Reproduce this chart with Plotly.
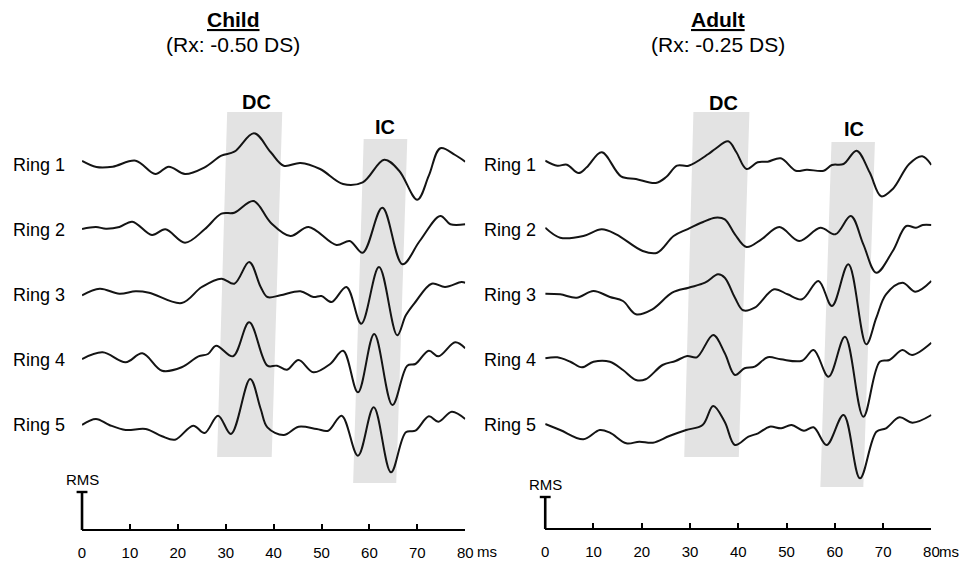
import plotly.graph_objects as go

# ---------------- data (time in ms, amplitude in arbitrary units) ----------------
RINGS = ["Ring 1", "Ring 2", "Ring 3", "Ring 4", "Ring 5"]
TICKS = [0, 10, 20, 30, 40, 50, 60, 70, 80]

CHILD_R1_T = [0, 3, 6.4, 11.2, 15.3, 18.1, 21.5, 25.6, 29.1, 31.8, 35.9, 39.4, 42.1, 45.6, 49.7, 54.5, 58.6, 63.1, 66.2, 70, 72.4, 74.8, 77.9, 80]
CHILD_R1_V = [3, -3, -2.7, 3.3, -10, -2.7, -10, -3.3, 8.3, 12.3, 30.7, 11.7, -1.7, 1, -5, -20, -18.3, 4.3, -6.7, -35.7, -11.7, 15.7, 9, 2.3]
CHILD_R2_T = [0, 2.9, 5, 7.8, 10.5, 14.6, 17.4, 21.5, 25.6, 29.1, 31.8, 35.8, 39.4, 43.5, 47.3, 53.1, 55.9, 58.6, 62.7, 66.9, 70.5, 74.8, 76.9, 80]
CHILD_R2_V = [0, 2, 0.3, 2, 7.3, -6, -0.3, -13.7, -0.3, 15.3, 16.3, 28, 6.3, -7, 2, -16, -12, -23.7, 21.3, -35.3, -12, 13, 4.7, 4.7]
CHILD_R3_T = [0, 3.7, 7.8, 11.2, 14, 20.8, 25, 29.1, 31.8, 34.9, 37.3, 38.7, 41.4, 45.6, 48.3, 50, 52.1, 55.2, 58.3, 62, 65.8, 67.6, 69.6, 73, 75.8, 79.2, 80]
CHILD_R3_V = [-1.3, 5.3, 0.3, 2.7, 1.3, -9, 7, 15.3, 10.3, 32, 7, -3, -1.3, 2.7, -3, -2, -8, 7, -29.7, 27, -41.3, -21.3, -8, 10.3, 7, 12, 11.3]
CHILD_R4_T = [0, 4.3, 9.1, 12.6, 16.7, 20.8, 24.3, 26.3, 28, 31.5, 34.9, 38.7, 40.7, 42.8, 45.2, 48.3, 51.8, 54.5, 57.6, 61, 64.8, 67.9, 69.6, 72.4, 74.4, 77.9, 80]
CHILD_R4_V = [0, 6.7, -3.3, 5.7, -11.7, -8.3, 2.7, 5, 13.3, 2.7, 36.7, -6.7, -6.7, -10.7, -1, -13.3, -5, 8.3, -33.3, 25, -46, -6.7, -5, 8.3, 2.7, 16.7, 10.7]
CHILD_R5_T = [0, 2.9, 5.7, 9.1, 13.3, 16.7, 19.4, 23.2, 25.6, 28.4, 31.1, 35.1, 37.3, 38.7, 42.1, 45.2, 49, 51.4, 54.2, 57.6, 60.9, 64.5, 67.6, 69.6, 72.4, 74.4, 77.2, 80]
CHILD_R5_V = [-1, 5, -1, -6, -5, -12.3, -15.7, -1.7, -9, 8.3, -10, 45, 15, -3.3, -11, -2.7, -5, -6.7, 8.3, -31.7, 16.7, -48.3, -8.3, -6.7, 7.7, 2.3, 12.3, 5]

ADULT_R1_T = [0, 2.5, 4.5, 6.9, 8.6, 11.7, 15.7, 18.8, 22.9, 25, 27.3, 29.7, 33.8, 35.2, 37.9, 39.6, 41.7, 44, 46.1, 48.8, 51.9, 54.2, 57.7, 59.4, 61.8, 64.5, 67.2, 69.6, 72, 75.4, 78.1, 80]
ADULT_R1_V = [3.3, -1.7, -0.7, -9, -3.3, 11.7, -12.3, -15, -19, -13.3, -1.7, -1.7, 10, 15, 22.7, 11.7, -5, 1.7, 2.3, 5.7, -6.7, -5.7, -6.7, -1, 0, 13.3, -8.3, -32.3, -25, 0, 7.7, -1]
ADULT_R2_T = [0, 3.1, 7.9, 11.7, 14.7, 20.2, 23.2, 26.6, 29.4, 32.7, 35.2, 37.2, 39.3, 41.7, 44.8, 48.5, 52.6, 57, 60.1, 63.3, 65.9, 68.6, 72, 74.8, 76.8, 78.2, 80]
ADULT_R2_V = [1.3, -8.7, -7, -0.3, -5.3, -22, -23.7, -7, -0.3, 7, 11.3, 9.7, -5.3, -18, -10.3, 2, -12, 1.3, -5.3, 13, -15.3, -43.7, -22, 3, 1.3, 4, 4]
ADULT_R3_T = [0, 3.1, 6.5, 10, 13.4, 16.1, 18.8, 22.2, 26.3, 29.7, 33.1, 35.8, 37.2, 39.3, 41, 43.4, 47.4, 50.2, 53.2, 56.6, 59.4, 62.8, 66.5, 68.6, 70.6, 74, 76.7, 80]
ADULT_R3_V = [0.3, -0.3, -3.7, 3, -3, -7, -20.3, -15.3, 1.3, 6.3, 11.3, 19.7, 16.3, -3.7, -16.3, -13.7, 4.7, -0.3, -5.3, 13, -12, 29.7, -50.3, -23.7, -0.3, 11.3, 2.3, 13]
ADULT_R4_T = [0, 2.5, 5.2, 7.6, 10, 13.4, 16.1, 18.8, 20.8, 24.3, 27, 29.4, 31.4, 34.8, 37.2, 39.3, 41.3, 43.4, 46.1, 48.8, 53.2, 55.6, 58.7, 62.1, 65.9, 69.3, 71.3, 74, 76, 80]
ADULT_R4_V = [0.7, 1.7, -2.7, -8.3, -2.7, -2.7, -11, -21, -20.3, -6, -2, 3, 1.7, 24, 5.7, -16, -9.3, -7.7, 1.7, -0.3, -1.7, 9, -17.7, 22.3, -57.7, -2.7, -1, 9, 4, 16.3]
ADULT_R5_T = [0, 3.1, 7.9, 11.3, 13.4, 16.8, 19.5, 22.3, 25.7, 29.2, 32.6, 34.8, 37.2, 39.3, 42.1, 44.1, 46.5, 48.9, 51, 53.6, 55.6, 58.3, 61.8, 65.2, 68.6, 70.6, 73.4, 76.1, 80]
ADULT_R5_V = [0, -6, -15.3, -6, -8.7, -19.3, -17.7, -18.7, -12, -6, -1, 18, 2, -21, -12.7, -9.3, -2.7, -4.3, -1, -6.7, -3.3, -21, 9, -54.3, -7.7, -4.3, 6.7, 1.3, 9]

# analysis windows (ms): [top start, top end, bottom start, bottom end]
CHILD_DC = [30.3, 41.8, 28.2, 39.6]
CHILD_IC = [58.8, 67.9, 56.6, 65.6]
ADULT_DC = [30.7, 42.3, 28.8, 40.1]
ADULT_IC = [59.3, 68.3, 57.0, 65.9]

# RMS scale bar heights (same units as amplitudes)
CHILD_RMS = 38
ADULT_RMS = 32

# ---------------- layout helpers ----------------
W, H = 971, 561
FONT = "Liberation Sans, Arial, sans-serif"
LINE = "#141414"
SHADE = "#e3e3e3"


def px(x):
    return x / W


def py(y):
    return 1 - y / H


BASE0, STEP = 164, 65
baselines = [BASE0 + STEP * k for k in range(5)]

panels = [
    dict(name="Child", rx="(Rx: -0.50 DS)", xa="x", xkey="xaxis", dom=(79, 467), axis_y=530,
         data=[(CHILD_R1_T, CHILD_R1_V), (CHILD_R2_T, CHILD_R2_V), (CHILD_R3_T, CHILD_R3_V),
               (CHILD_R4_T, CHILD_R4_V), (CHILD_R5_T, CHILD_R5_V)],
         dc=CHILD_DC, ic=CHILD_IC, dc_y=(112, 457), ic_y=(139, 483), rms=CHILD_RMS,
         title_x=232, dc_lab=(256, 102), ic_lab=(386, 127), ring_x=64, ms_x=478),
    dict(name="Adult", rx="(Rx: -0.25 DS)", xa="x2", xkey="xaxis2", dom=(548, 939), axis_y=529,
         data=[(ADULT_R1_T, ADULT_R1_V), (ADULT_R2_T, ADULT_R2_V), (ADULT_R3_T, ADULT_R3_V),
               (ADULT_R4_T, ADULT_R4_V), (ADULT_R5_T, ADULT_R5_V)],
         dc=ADULT_DC, ic=ADULT_IC, dc_y=(112, 457), ic_y=(142, 487), rms=ADULT_RMS,
         title_x=723, dc_lab=(728, 103), ic_lab=(861, 129), ring_x=541, ms_x=946),
]

fig = go.Figure()
shapes, annotations = [], []

for p in panels:
    d0, d1 = p["dom"]

    def msx(t, d0=d0, d1=d1):
        return px(d0 + (d1 - d0) * t / 80.0)

    # waveforms
    for k, (t, v) in enumerate(p["data"]):
        fig.add_trace(go.Scatter(
            x=t, y=[-baselines[k] + a for a in v], xaxis=p["xa"], yaxis="y",
            mode="lines", line=dict(color=LINE, width=2, shape="spline", smoothing=1.0),
            hoverinfo="skip", showlegend=False))
        annotations.append(dict(x=px(p["ring_x"]), y=py(baselines[k] + 1), xref="paper", yref="paper",
                                text=RINGS[k], showarrow=False, xanchor="right", yanchor="middle",
                                font=dict(family=FONT, size=18, color="#000")))

    # shaded windows
    for win, (yt, yb) in ((p["dc"], p["dc_y"]), (p["ic"], p["ic_y"])):
        path = (f"M {win[0]},{-yt} L {win[1]},{-yt} L {win[3]},{-yb} L {win[2]},{-yb} Z")
        shapes.append(dict(type="path", path=path, xref=p["xa"], yref="y",
                           fillcolor=SHADE, line=dict(width=0), layer="below"))

    # RMS bar
    ay = p["axis_y"]
    x0 = msx(0)
    shapes.append(dict(type="line", xref="paper", yref="paper", x0=x0, x1=x0,
                       y0=py(ay), y1=py(ay - p["rms"]), line=dict(color="#000", width=2.6)))
    shapes.append(dict(type="line", xref="paper", yref="paper", x0=x0 - px(5.5), x1=x0 + px(5.5),
                       y0=py(ay - p["rms"]), y1=py(ay - p["rms"]), line=dict(color="#000", width=2.4)))
    annotations.append(dict(x=x0, y=py(ay - p["rms"] - 13), xref="paper", yref="paper", text="RMS",
                            showarrow=False, xanchor="center", yanchor="middle",
                            font=dict(family=FONT, size=15, color="#000")))
    # ms label
    annotations.append(dict(x=px(p["ms_x"]), y=py(551), xref="paper", yref="paper", text="ms",
                            showarrow=False, xanchor="left", yanchor="middle", borderpad=0,
                            font=dict(family=FONT, size=15, color="#000")))
    # titles
    annotations.append(dict(x=px(p["title_x"]), y=py(20), xref="paper", yref="paper",
                            text=f"<b><u>{p['name']}</u></b>", showarrow=False,
                            xanchor="center", yanchor="middle",
                            font=dict(family=FONT, size=21, color="#000")))
    annotations.append(dict(x=px(p["title_x"]), y=py(45), xref="paper", yref="paper",
                            text=p["rx"], showarrow=False, xanchor="center", yanchor="middle",
                            font=dict(family=FONT, size=21, color="#000")))
    # window labels
    for lab, (lx, ly) in (("DC", p["dc_lab"]), ("IC", p["ic_lab"])):
        annotations.append(dict(x=px(lx), y=py(ly), xref="paper", yref="paper", text=f"<b>{lab}</b>",
                                showarrow=False, xanchor="center", yanchor="middle",
                                font=dict(family=FONT, size=20, color="#000")))

    fig.update_layout(**{p["xkey"]: dict(
        domain=[px(d0), px(d1)], range=[0, 80], anchor="free", position=py(ay),
        showgrid=False, zeroline=False, showline=True, linecolor="#000", linewidth=2,
        ticks="inside", ticklen=5, tickwidth=1.6, tickcolor="#000",
        tickvals=TICKS, ticktext=[str(t) for t in TICKS], ticklabelstandoff=9,
        tickfont=dict(family=FONT, size=15, color="#000"), fixedrange=True)})

fig.update_layout(
    width=W, height=H, autosize=False,
    margin=dict(l=0, r=0, t=0, b=0, pad=0),
    paper_bgcolor="white", plot_bgcolor="white",
    yaxis=dict(domain=[0, 1], range=[-H, 0], visible=False, fixedrange=True),
    shapes=shapes, annotations=annotations, showlegend=False,
)

fig.write_html("out.html")
